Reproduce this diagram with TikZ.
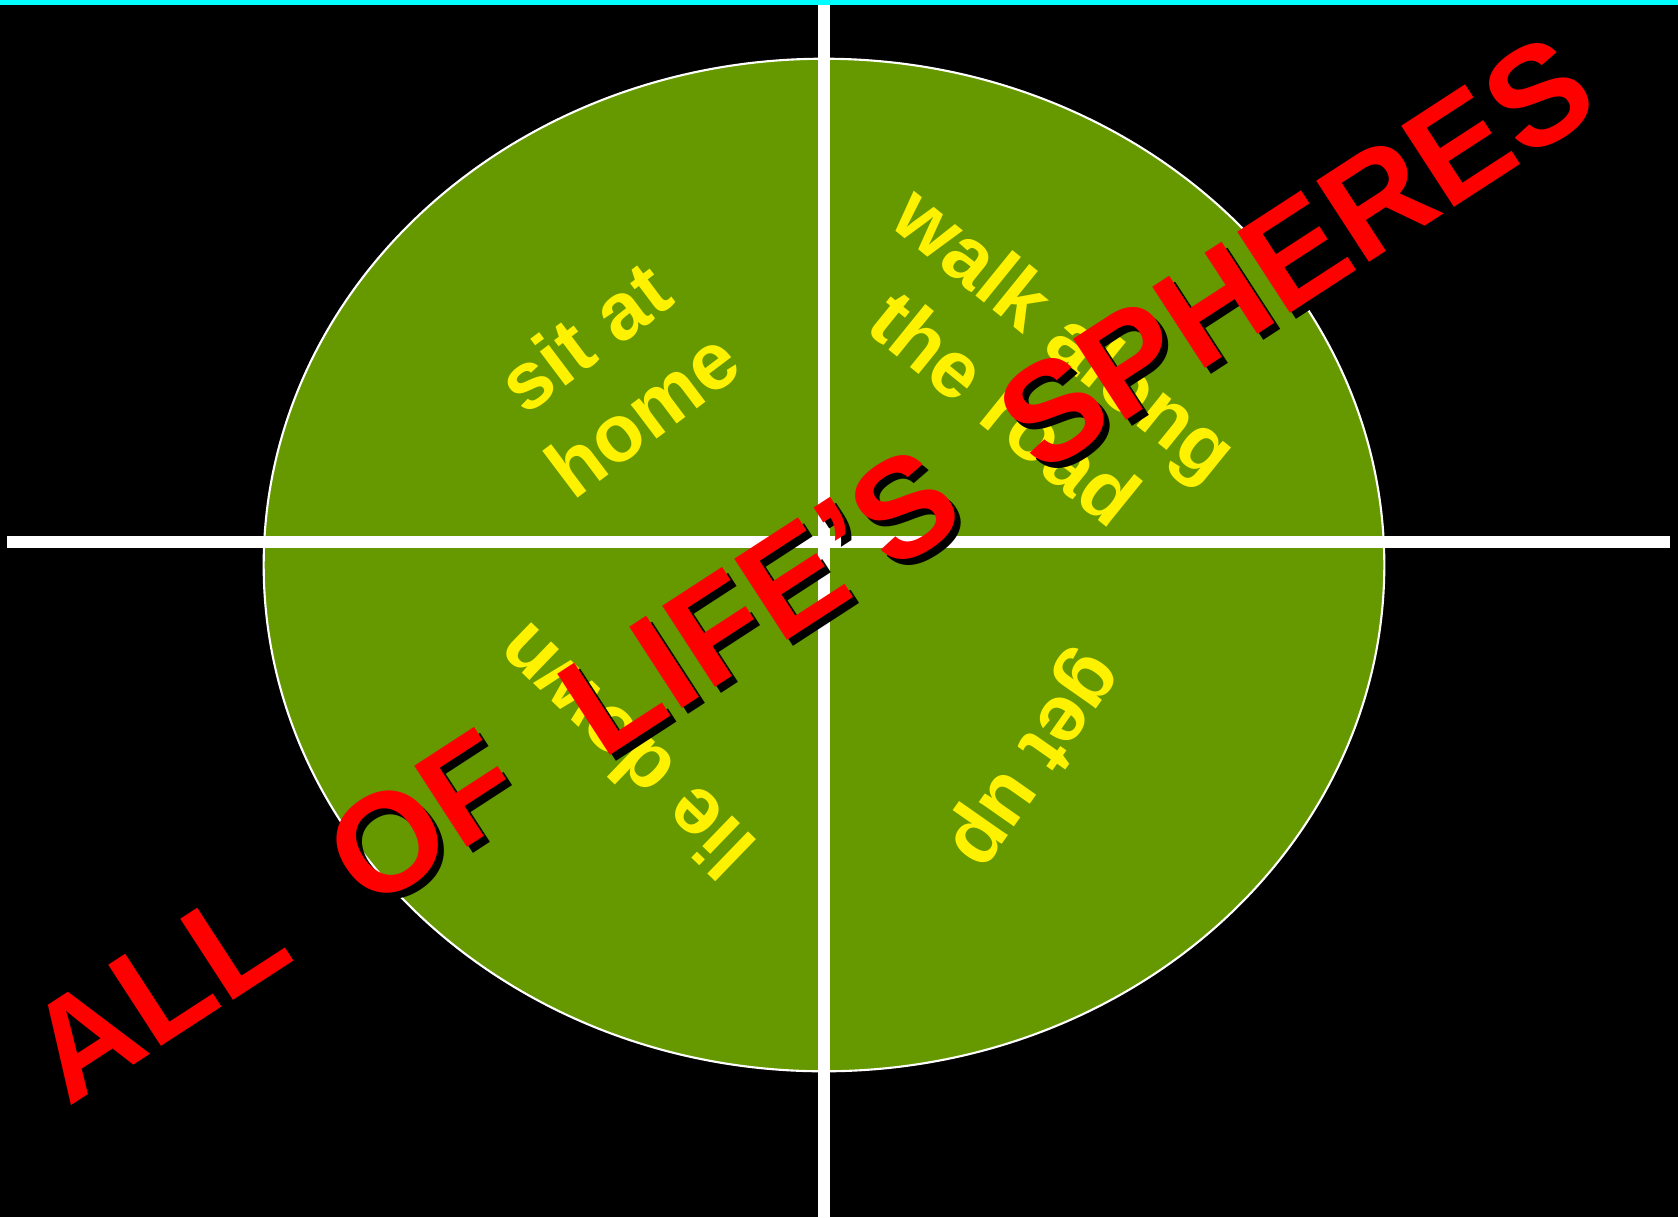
\documentclass[tikz,border=0pt]{standalone}
\usepackage{fontspec}
\setmainfont{Liberation Sans}
\definecolor{coxanh}{HTML}{669900}
\definecolor{vienxanh}{HTML}{00FFFF}
\newcommand{\cach}{\hspace{0.45cm}}
\begin{document}
\begin{tikzpicture}[x=0.01cm, y=-0.01cm,
    chuvang/.style={text=yellow, font=\fontsize{23}{27.5}\selectfont\bfseries, align=center},
    chudo/.style={font=\fontsize{40}{44}\selectfont\bfseries, rotate=33, anchor=base west}]
    % Nen den va vien tren
    \fill[black] (0,0) rectangle (1678,1217);
    \fill[vienxanh] (0,0) rectangle (1678,5);
    \useasboundingbox (0,0) rectangle (1678,1217);
    % Hinh elip va hai truc
    \draw[white, fill=coxanh, line width=0.6pt] (824,565) ellipse [x radius=5.6cm, y radius=5.06cm];
    \draw[white, line width=3.4pt] (824,5) -- (824,1217);
    \draw[white, line width=3.4pt] (7,542) -- (1670,542);
    % Chu trong bon goc
    \node[chuvang, rotate=37] (ngoi) at (613,375) {sit at\\home};
    \node[chuvang, rotate=-39] (di) at (1036,370) {walk along\\the road};
    \node[chuvang, rotate=136] (nam) at (624,752) {lie down};
    \node[chuvang, rotate=-125] (day) at (1032,758) {get up};
    % Dong chu lon
    \node[chudo, text=black] (bong) at (64,1120) {ALL \cach OF \cach LIFE'S \cach SPHERES};
    \node[chudo, text=red] (tieude) at (58,1114) {ALL \cach OF \cach LIFE'S \cach SPHERES};
\end{tikzpicture}
\end{document}
